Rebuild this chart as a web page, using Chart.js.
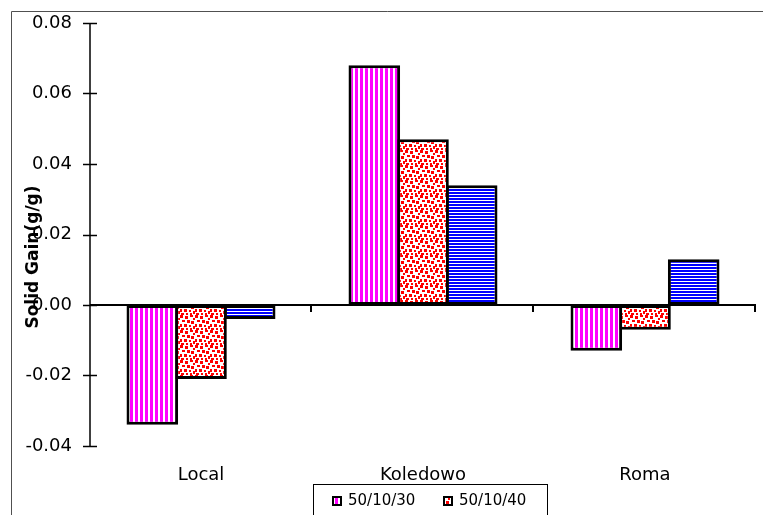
<!DOCTYPE html>
<html><head><meta charset="utf-8">
<script src="https://cdn.jsdelivr.net/npm/chart.js@4/dist/chart.umd.min.js"></script>
<style>html,body{margin:0;padding:0;background:#fff;}canvas{display:block;}</style>
</head><body>
<canvas id="c" width="763" height="515"></canvas>
<script>
// ---- data ----
const categories = ["Local", "Koledowo", "Roma"];
const seriesLabels = ["50/10/30", "50/10/40", "50/10/50"];
const s30 = [-0.034, 0.068, -0.013];
const s40 = [-0.021, 0.047, -0.007];
const s50 = [-0.004, 0.034, 0.013];
const yMin = -0.04, yMax = 0.08, yStep = 0.02;
const yTitle = "Solid Gain(g/g)";
const legendShown = 2;

// ---- patterns ----
const canvas = document.getElementById('c');
const ctx = canvas.getContext('2d');
function tile(w, h, draw) {
  const c = document.createElement('canvas');
  c.width = w; c.height = h;
  const x = c.getContext('2d');
  x.fillStyle = '#fff'; x.fillRect(0, 0, w, h);
  draw(x);
  return ctx.createPattern(c, 'repeat');
}
const pMagenta = tile(5, 1, x => { x.fillStyle = '#FF00FF'; x.fillRect(0, 0, 3, 1); });
const pBlue = tile(1, 3, x => { x.fillStyle = '#0000FF'; x.fillRect(0, 0, 1, 2); });
const dots = [[0,0,3,3],[5,1,3,3],[10,0,3,2],[13,3,2,2],[2,5,3,2],[7,5,3,3],[11,6,3,3],[0,9,2,3],[4,9,3,3],[9,10,2,2],[13,11,2,3],[1,13,3,2],[6,13,2,2],[10,13,2,2]];
const pRed = tile(15, 15, x => { x.fillStyle = '#FF0000'; dots.forEach(d => x.fillRect(d[0], d[1], d[2], d[3])); });
const patterns = [pMagenta, pRed, pBlue];

const FONT = "'DejaVu Sans', sans-serif";

const decor = {
  id: 'decor',
  afterDatasetsDraw(chart) {
    const c = chart.ctx;
    const ys = chart.scales.y, xs = chart.scales.x;
    const ax = ys.right;
    c.save();
    c.strokeStyle = '#000';
    c.lineWidth = 1.5;
    c.beginPath();
    c.moveTo(ax, ys.getPixelForValue(yMax));
    c.lineTo(ax, ys.getPixelForValue(yMin));
    c.stroke();
    ys.ticks.forEach(t => {
      const py = Math.round(ys.getPixelForValue(t.value)) + 0.5;
      c.beginPath(); c.moveTo(ax - 7, py); c.lineTo(ax + 7, py); c.stroke();
    });
    const y0 = Math.round(ys.getPixelForValue(0));
    c.lineWidth = 2;
    c.beginPath(); c.moveTo(ax, y0); c.lineTo(xs.right, y0); c.stroke();
    const n = categories.length;
    for (let i = 1; i <= n; i++) {
      const bx = Math.round(xs.left + i * (xs.right - xs.left) / n) - 1;
      c.beginPath(); c.moveTo(bx, y0); c.lineTo(bx, y0 + 7); c.stroke();
    }
    c.restore();
  },
  afterDraw(chart) {
    const c = chart.ctx;
    c.save();
    c.strokeStyle = '#505050'; c.lineWidth = 1;
    c.beginPath(); c.moveTo(11.5, 515); c.lineTo(11.5, 11.5); c.lineTo(763, 11.5); c.stroke();
    c.fillStyle = '#000';
    c.font = "bold 17px " + FONT;
    c.textAlign = 'center'; c.textBaseline = 'alphabetic';
    c.translate(38, 257); c.rotate(-Math.PI / 2);
    c.fillText(yTitle, 0, 0);
    c.restore();
    c.save();
    c.strokeStyle = '#000'; c.lineWidth = 1;
    c.strokeRect(313.5, 484.5, 234, 40);
    const sx = [332, 443];
    c.font = "15px " + FONT;
    c.textAlign = 'left'; c.textBaseline = 'middle';
    for (let i = 0; i < legendShown; i++) {
      c.fillStyle = patterns[i];
      c.fillRect(sx[i], 496, 10, 10);
      c.lineWidth = 2; c.strokeStyle = '#000';
      c.strokeRect(sx[i] + 1, 497, 8, 8);
      c.fillStyle = '#000';
      c.fillText(chart.data.datasets[i].label, sx[i] + 16, 501);
    }
    c.restore();
  }
};

const seriesValues = [s30, s40, s50];
new Chart(canvas, {
  type: 'bar',
  data: {
    labels: categories,
    datasets: seriesValues.map((v, i) => ({
      label: seriesLabels[i],
      data: v,
      backgroundColor: patterns[i],
      borderColor: '#000',
      borderWidth: 3,
      borderSkipped: false,
      barPercentage: 1.06,
      categoryPercentage: 0.658
    }))
  },
  options: {
    responsive: false,
    devicePixelRatio: 1,
    animation: false,
    layout: { padding: { left: 0, top: 23, right: 7, bottom: 0 } },
    plugins: { legend: { display: false }, tooltip: { enabled: false } },
    scales: {
      x: {
        grid: { display: false, drawTicks: false },
        border: { display: false },
        ticks: { color: '#000', font: { family: FONT, size: 18 }, padding: 19, maxRotation: 0 },
        afterFit(s) { s.height = 69; s.paddingLeft = 0; s.paddingRight = 0; }
      },
      y: {
        min: yMin, max: yMax,
        grid: { display: false, drawTicks: false },
        border: { display: false },
        ticks: {
          stepSize: yStep, color: '#000', padding: 18,
          font: { family: FONT, size: 18 },
          callback: v => Math.abs(v) < 1e-9 ? '0.00' : v.toFixed(2)
        },
        afterFit(s) { s.width = 90; s.paddingTop = 0; s.paddingBottom = 0; }
      }
    }
  },
  plugins: [decor]
});
</script>
</body></html>
